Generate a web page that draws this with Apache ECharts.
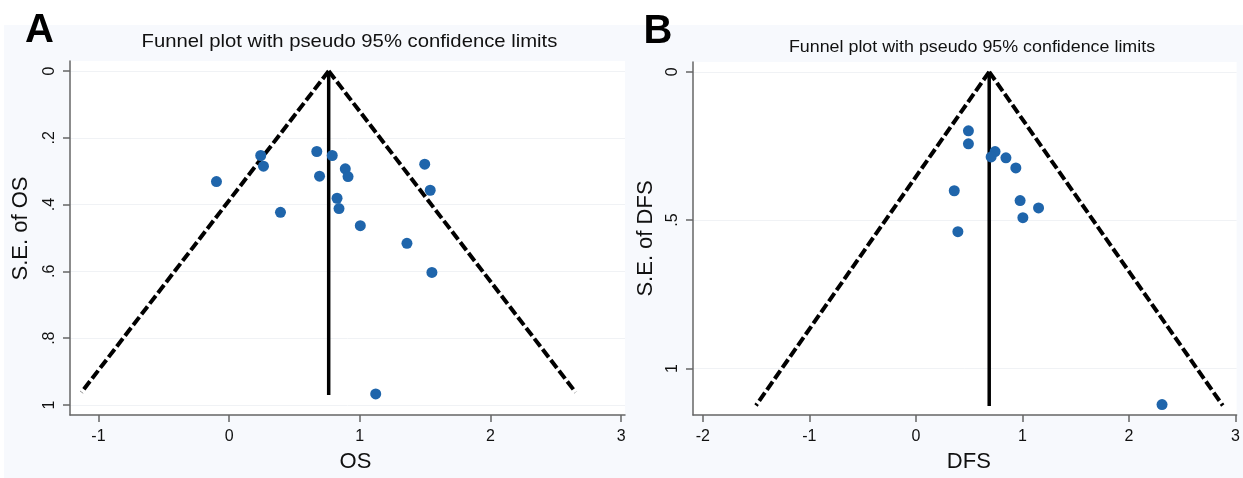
<!DOCTYPE html>
<html style="height: 100%">
  <head>
    <meta charset="utf-8" />
  </head>
  <body style="height: 100%; margin: 0">
    <div id="container" style="width: 1243px; height: 478px"></div>

    <script src="https://cdn.jsdelivr.net/npm/echarts@6.0.0/dist/echarts.min.js"></script>
    <script type="text/javascript">
      // panel A: overall survival
      var osEffect = [-0.097, 0.242, 0.263, 0.393, 0.671, 0.692, 0.789, 0.889, 0.91, 0.826, 0.841, 1.004, 1.497, 1.539, 1.361, 1.552, 1.122];
      var osSE = [0.331, 0.253, 0.285, 0.423, 0.241, 0.315, 0.253, 0.293, 0.316, 0.381, 0.412, 0.463, 0.279, 0.357, 0.516, 0.603, 0.967];
      var osFunnelLeft = [[0.762, 0], [-1.13, 0.962]];
      var osFunnelRight = [[0.762, 0], [2.652, 0.962]];
      var osPooled = [[0.762, 0], [0.762, 0.97]];
      var osXTicks = [-1, 0, 1, 2, 3];
      var osYTicks = [0, 0.2, 0.4, 0.6, 0.8, 1];

      // panel B: disease-free survival
      var dfsEffect = [0.493, 0.493, 0.743, 0.706, 0.845, 0.938, 0.36, 0.978, 1.151, 1.004, 0.394, 2.31];
      var dfsSE = [0.199, 0.243, 0.269, 0.287, 0.29, 0.324, 0.401, 0.434, 0.459, 0.492, 0.539, 1.122];
      var dfsFunnelLeft = [[0.688, 0], [-1.501, 1.125]];
      var dfsFunnelRight = [[0.688, 0], [2.88, 1.125]];
      var dfsPooled = [[0.688, 0], [0.688, 1.127]];
      var dfsXTicks = [-2, -1, 0, 1, 2, 3];
      var dfsYTicks = [0, 0.5, 1];

      var titleText = "Funnel plot with pseudo 95% confidence limits";
      var font = '"Liberation Sans", Arial, sans-serif';
      var dotColor = "#1f65ab";

      function stataLabel(v) {
        // Stata drops the leading zero: .2, .4 ...
        var s = String(Math.round(v * 100) / 100);
        return s.replace(/^0\./, ".").replace(/^-0\./, "-.");
      }

      function pairs(xs, ys) {
        var out = [];
        for (var i = 0; i < xs.length; i++) out.push([xs[i], ys[i]]);
        return out;
      }

      function xAxisFor(idx, min, max, ticks, name, pad) {
        return {
          gridIndex: idx,
          type: "value",
          min: min,
          max: max,
          name: name,
          nameLocation: "middle",
          nameGap: 36,
          nameTextStyle: { fontSize: 22, color: "#111", fontFamily: font, padding: pad },
          axisLine: { onZero: false, lineStyle: { color: "#666", width: 1.5 } },
          axisTick: { customValues: ticks, length: 7, lineStyle: { color: "#666", width: 1.5 } },
          axisLabel: { customValues: ticks, fontSize: 16, color: "#111", fontFamily: font, margin: 14 },
          splitLine: { show: false },
        };
      }

      function yAxisFor(idx, min, max, ticks, name, gap, pad) {
        return {
          gridIndex: idx,
          type: "value",
          inverse: true,
          min: min,
          max: max,
          name: name,
          nameLocation: "middle",
          nameGap: gap,
          nameRotate: 90,
          nameTextStyle: { fontSize: 22, color: "#111", fontFamily: font, padding: pad },
          axisLine: { onZero: false, lineStyle: { color: "#666", width: 1.5 } },
          axisTick: { customValues: ticks, length: 7, lineStyle: { color: "#666", width: 1.5 } },
          axisLabel: {
            customValues: ticks,
            rotate: 90,
            fontSize: 16,
            color: "#111",
            fontFamily: font,
            margin: 12,
            formatter: stataLabel,
          },
          splitLine: { show: false },
        };
      }

      function gridLines(ticks) {
        return ticks.map(function (t) {
          return { yAxis: t };
        });
      }

      function panelSeries(idx, xs, ys, left, right, pooled, yTicks) {
        var dash = { color: "#000", width: 4, type: [10, 3.5], cap: "butt" };
        return [
          {
            type: "line",
            xAxisIndex: idx,
            yAxisIndex: idx,
            data: left,
            symbol: "none",
            lineStyle: dash,
            silent: true,
            markLine: {
              silent: true,
              symbol: "none",
              label: { show: false },
              lineStyle: { color: "#f0f2f5", width: 1, type: "solid" },
              data: gridLines(yTicks),
              z: 0,
            },
          },
          {
            type: "line",
            xAxisIndex: idx,
            yAxisIndex: idx,
            data: right,
            symbol: "none",
            lineStyle: dash,
            silent: true,
          },
          {
            type: "line",
            xAxisIndex: idx,
            yAxisIndex: idx,
            data: pooled,
            symbol: "none",
            lineStyle: { color: "#000", width: 3.5 },
            silent: true,
          },
          {
            type: "scatter",
            xAxisIndex: idx,
            yAxisIndex: idx,
            data: pairs(xs, ys),
            symbolSize: 11,
            itemStyle: { color: dotColor, opacity: 1 },
            z: 5,
          },
        ];
      }

      var dom = document.getElementById("container");
      var myChart = echarts.init(dom, null, { renderer: "canvas" });

      var option = {
        animation: false,
        backgroundColor: "#ffffff",
        graphic: [
          {
            type: "rect",
            z: -10,
            shape: { x: 4, y: 25, width: 1239, height: 453 },
            style: { fill: "#f7f9fd" },
          },
          {
            type: "text",
            x: 39.5,
            y: 31,
            style: { text: "A", fontSize: 40, fontWeight: "bold", fontFamily: font, fill: "#000", align: "center", verticalAlign: "middle" },
          },
          {
            type: "text",
            x: 658,
            y: 32,
            style: { text: "B", fontSize: 40, fontWeight: "bold", fontFamily: font, fill: "#000", align: "center", verticalAlign: "middle" },
          },
          {
            type: "text",
            x: 349.5,
            y: 42,
            scaleX: 1.146,
            style: { text: titleText, fontSize: 17.7, fontFamily: font, fill: "#111", align: "center", verticalAlign: "middle" },
          },
          {
            type: "text",
            x: 972,
            y: 47,
            scaleX: 1.05,
            style: { text: titleText, fontSize: 17, fontFamily: font, fill: "#111", align: "center", verticalAlign: "middle" },
          },
        ],
        grid: [
          { left: 70, top: 61, width: 555, height: 359, show: true, backgroundColor: "#ffffff", borderWidth: 0 },
          { left: 693, top: 62, width: 550, height: 359, show: true, backgroundColor: "#ffffff", borderWidth: 0 },
        ],
        xAxis: [
          xAxisFor(0, -1.218, 3.03, osXTicks, "OS", [0, 0, 0, 16]),
          xAxisFor(1, -2.092, 3.01, dfsXTicks, "DFS", [0, 0, 0, 8]),
        ],
        yAxis: [
          yAxisFor(0, -0.03, 1.03, osYTicks, "S.E. of OS", 38, [0, 0, 0, 19]),
          yAxisFor(1, -0.033, 1.157, dfsYTicks, "S.E. of DFS", 36, [0, 0, 0, 0]),
        ],
        series: []
          .concat(panelSeries(0, osEffect, osSE, osFunnelLeft, osFunnelRight, osPooled, osYTicks))
          .concat(panelSeries(1, dfsEffect, dfsSE, dfsFunnelLeft, dfsFunnelRight, dfsPooled, dfsYTicks)),
      };

      myChart.setOption(option);
    </script>
  </body>
</html>
